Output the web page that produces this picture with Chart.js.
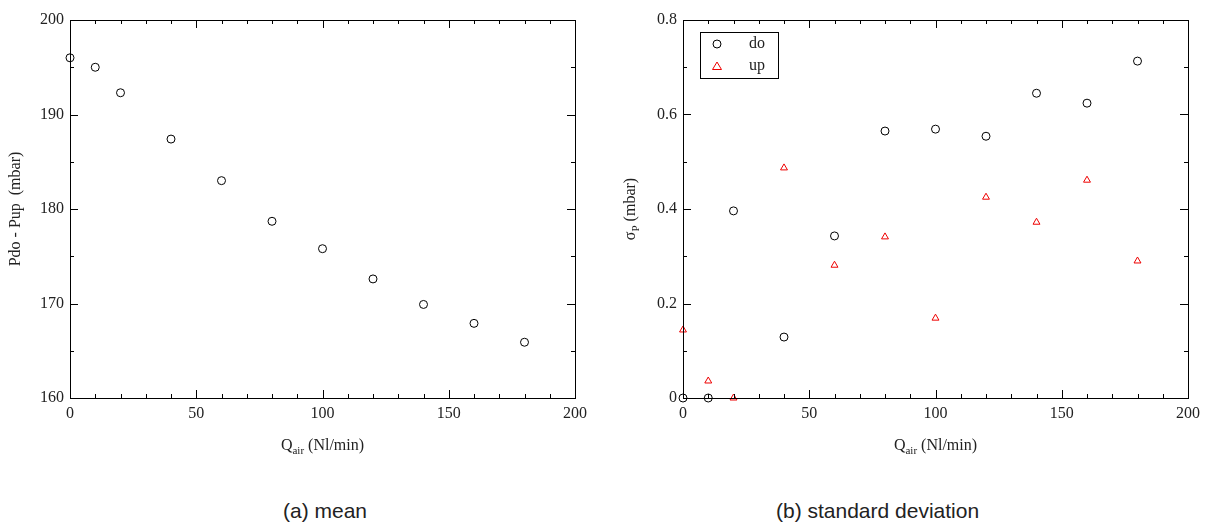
<!DOCTYPE html>
<html><head><meta charset="utf-8">
<script src="https://cdn.jsdelivr.net/npm/chart.js@4/dist/chart.umd.min.js"></script>
<style>
body{margin:0;background:#fff;width:1213px;height:524px;position:relative;overflow:hidden}
.c{position:absolute;top:0;width:600px;height:470px}
.cap{position:absolute;top:499px;font:21px "Liberation Sans",Arial,sans-serif;color:#222}
</style></head><body>
<div class="c" style="left:0"><canvas id="a"></canvas></div>
<div class="c" style="left:610px"><canvas id="b"></canvas></div>
<div class="cap" style="left:283px">(a) mean</div>
<div class="cap" style="left:776px">(b) standard deviation</div>
<script>
const qAir=[0,10,20,40,60,80,100,120,140,160,180];
const meanDiff=[196,195,192.3,187.4,183,178.7,175.8,172.6,169.9,167.9,165.9];
const sdDo=[0,0,0.396,0.129,0.343,0.565,0.569,0.554,0.645,0.624,0.713];
const sdUp=[0.144,0.036,0,0.487,0.281,0.341,0.169,0.425,0.372,0.461,0.29];
const xTicks=[0,50,100,150,200];
const yTicksA=[160,170,180,190,200];
const yTicksB=[0,0.2,0.4,0.6,0.8];
const SERIF='"Liberation Serif","DejaVu Serif",serif';

function framePlugin(cfg){return {id:'frame',afterDraw(ch){
 const c=ch.ctx,a=ch.chartArea,x=ch.scales.x,y=ch.scales.y;
 c.save();c.strokeStyle='#000';c.lineWidth=1;
 c.strokeRect(a.left+.5,a.top+.5,a.right-a.left,a.bottom-a.top);
 for(let v=0;v<=200;v+=10){const p=Math.round(x.getPixelForValue(v))+.5;const L=v%50===0?8:4;
  c.beginPath();c.moveTo(p,a.bottom);c.lineTo(p,a.bottom-L);c.moveTo(p,a.top);c.lineTo(p,a.top+L);c.stroke();}
 const st=cfg.ystep/ cfg.yminor;
 for(let i=0;;i++){const v=y.min+i*st;if(v>y.max+1e-9)break;const p=Math.round(y.getPixelForValue(v))+.5;const L=(i%cfg.yminor===0)?8:4;
  c.beginPath();c.moveTo(a.left,p);c.lineTo(a.left+L,p);c.moveTo(a.right,p);c.lineTo(a.right-L,p);c.stroke();}
 c.fillStyle='#222';c.font='16px '+SERIF;
 const cx=(a.left+a.right)/2, ty=a.bottom+52;
 c.textBaseline='alphabetic';
 const w1=c.measureText('Q').width;c.font='11px '+SERIF;const w2=c.measureText('air').width;c.font='16px '+SERIF;const w3=c.measureText(' (Nl/min)').width;
 let sx=cx-(w1+w2+w3)/2;c.fillText('Q',sx,ty);c.font='11px '+SERIF;c.fillText('air',sx+w1,ty+4);c.font='16px '+SERIF;c.fillText(' (Nl/min)',sx+w1+w2,ty);
 c.translate(a.left-cfg.ytoff,(a.top+a.bottom)/2);c.rotate(-Math.PI/2);c.textAlign='left';
 if(cfg.sigma){const s1=c.measureText('σ').width;c.font='11px '+SERIF;const s2=c.measureText('P').width;c.font='16px '+SERIF;const s3=c.measureText(' (mbar)').width;
  let q=-(s1+s2+s3)/2;c.fillText('σ',q,0);c.font='11px '+SERIF;c.fillText('P',q+s1,4);c.font='16px '+SERIF;c.fillText(' (mbar)',q+s1+s2,0);}
 else{c.textAlign='center';c.fillText('Pdo - Pup  (mbar)',0,0);}
 c.restore();
 if(cfg.legend){c.save();c.strokeStyle='#000';c.lineWidth=1;c.strokeRect(700.5-610,32.5,78,46);
  c.font='16px '+SERIF;c.fillStyle='#222';c.textBaseline='middle';
  c.beginPath();c.arc(717-610,44,4,0,Math.PI*2);c.stroke();c.fillText('do',749-610,44);
  c.strokeStyle='#e00';c.beginPath();c.moveTo(717-610,62);c.lineTo(721.5-610,69.5);c.lineTo(712.5-610,69.5);c.closePath();c.stroke();
  c.fillText('up',749-610,66);c.restore();}
}};}

function mk(id,datasets,ymin,ymax,ystep,ylabels,cfg,ywidth,rpad){
 return new Chart(document.getElementById(id),{type:'scatter',data:{datasets},
 options:{responsive:true,maintainAspectRatio:false,animation:false,
  layout:{padding:{top:20,right:rpad,left:0,bottom:0}},
  plugins:{legend:{display:false},tooltip:{enabled:false}},
  scales:{
   x:{type:'linear',min:0,max:200,grid:{display:false,drawTicks:false},border:{display:false},
    afterBuildTicks(s){s.ticks=xTicks.map(v=>({value:v}));},
    ticks:{padding:6,color:'#222',font:{family:SERIF,size:16}},
    afterFit(s){s.height=72;}},
   y:{type:'linear',min:ymin,max:ymax,grid:{display:false,drawTicks:false},border:{display:false},
    afterBuildTicks(s){s.ticks=ylabels.map(v=>({value:v}));},
    ticks:{padding:6,color:'#222',font:{family:SERIF,size:16},callback:v=>cfg.fmt(v)},
    afterFit(s){s.width=ywidth;}}
  }},plugins:[framePlugin(cfg)]});
}
mk('a',[{data:qAir.map((q,i)=>({x:q,y:meanDiff[i]})),clip:false,pointStyle:'circle',pointRadius:4,borderColor:'#000',backgroundColor:'transparent',borderWidth:1}],
 160,200,10,yTicksA,{ystep:10,yminor:2,ytoff:50,fmt:v=>String(v)},70,25);
mk('b',[{data:qAir.map((q,i)=>({x:q,y:sdDo[i]})),clip:false,pointStyle:'circle',pointRadius:4,borderColor:'#000',backgroundColor:'transparent',borderWidth:1},
 {data:qAir.map((q,i)=>({x:q,y:sdUp[i]})),clip:false,pointStyle:'triangle',pointRadius:4,borderColor:'#e00',backgroundColor:'transparent',borderWidth:1}],
 0,0.8,0.2,yTicksB,{ystep:0.2,yminor:2,ytoff:48,sigma:true,legend:true,fmt:v=>v===0?'0':v.toFixed(1)},73,22);
</script></body></html>
